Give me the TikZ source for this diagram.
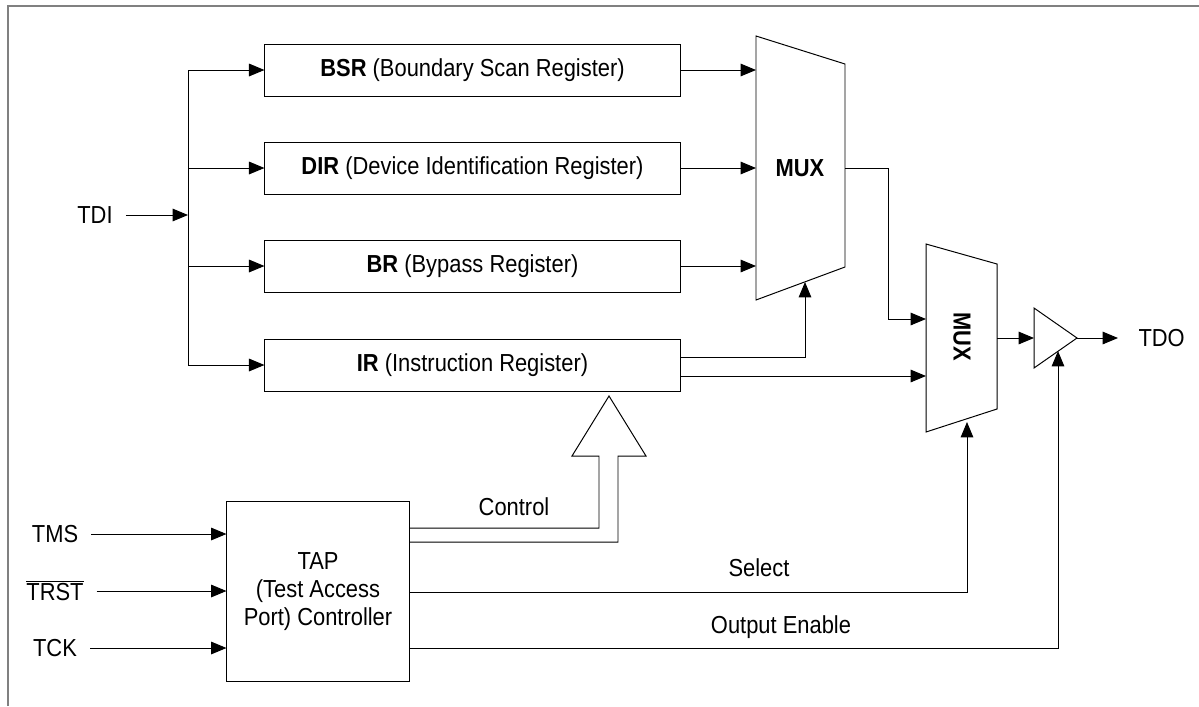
\documentclass[tikz,border=0pt]{standalone}
\usepackage{fontspec}
\setmainfont{Liberation Sans}[FakeStretch=0.89]
\usetikzlibrary{positioning,arrows.meta}

\tikzset{
  reg/.style={draw, minimum width=10.375cm, minimum height=1.3cm, inner sep=0pt},
  sig/.style={inner xsep=9pt},
  lbl/.style={inner sep=1pt},
}

\begin{document}
\begin{tikzpicture}[x=0.025cm, y=-0.025cm, line width=0.7pt,
    font=\fontsize{17.5}{20}\selectfont, every node/.style={align=center},
    >={Triangle[length=11pt,width=9pt]}]
  \useasboundingbox (0,0) rectangle (1199,706);
  \draw[gray, line width=1.5pt] (8,706) -- (8,6) -- (1199,6);

  % registers
  \node[reg] (bsr) at (472.5,70) {\textbf{BSR} (Boundary Scan Register)};
  \node[reg] (dir) at (472.5,168) {\textbf{DIR} (Device Identification Register)};
  \node[reg] (br) at (472.5,266) {\textbf{BR} (Bypass Register)};
  \node[reg] (ir) at (472.5,365) {\textbf{IR} (Instruction Register)};

  % TDI bus
  \node[sig] (tdi) at (95,215) {TDI};
  \coordinate (bus) at (188,215);
  \draw[->] (tdi) -- (bus);
  \draw[->] (bus) |- (bsr.west);
  \draw[->] (bus) |- (dir.west);
  \draw[->] (bus) |- (br.west);
  \draw[->] (bus) |- (ir.west);

  % first mux
  \coordinate (m1tl) at (756,36);
  \coordinate (m1tr) at (845,64);
  \coordinate (m1br) at (845,267);
  \coordinate (m1bl) at (756,300);
  \draw (m1tl) -- (m1tr) -- (m1br) -- (m1bl) -- cycle;
  \node[font=\fontsize{17.5}{20}\selectfont\bfseries] (mux1) at (800,168) {MUX};
  \draw[->] (bsr.east) -- (bsr.east -| m1tl);
  \draw[->] (dir.east) -- (dir.east -| m1tl);
  \draw[->] (br.east) -- (br.east -| m1tl);
  \coordinate (m1sel) at (805,282);
  \draw[->] (ir.east |- 0,357) -| (m1sel);

  % second mux
  \coordinate (m2tl) at (926,244);
  \coordinate (m2tr) at (997,264);
  \coordinate (m2br) at (997,409);
  \coordinate (m2bl) at (926,432);
  \draw (m2tl) -- (m2tr) -- (m2br) -- (m2bl) -- cycle;
  \node[font=\fontsize{17.5}{20}\selectfont\bfseries, rotate=-90] (mux2) at (962,337) {MUX};
  \draw[->] (m1tr |- 0,168) -- (888,168) |- (m2tl |- 0,319);
  \draw[->] (ir.east |- 0,376) -- (m2tl |- 0,376);
  \coordinate (m2sel) at (967,422);

  % output buffer
  \coordinate (bufin) at (1034,338);
  \coordinate (bufout) at (1077,338);
  \draw (1034,308) -- (bufout) -- (1034,368) -- cycle;
  \draw[->] (m2tr |- bufin) -- (bufin);
  \coordinate (bufen) at (1058,351);
  \node[sig, anchor=west, inner xsep=0pt] (tdo) at (1138,338) {TDO};
  \draw[->] (bufout) -- ([xshift=-0.5cm]tdo.west);

  % TAP controller
  \node[draw, minimum width=4.55cm, minimum height=4.475cm] (tap) at (318,591.5)
    {TAP\\(Test Access\\Port) Controller};
  \node[sig] (tms) at (55,534) {TMS};
  \node[sig] (trst) at (55,591) {$\overline{\hbox{TRST}}$};
  \node[sig] (tck) at (55,648) {TCK};
  \draw[->] (tms) -- (tms -| tap.west);
  \draw[->] (trst) -- (trst -| tap.west);
  \draw[->] (tck) -- (tck -| tap.west);

  % control to IR
  \draw (tap.east |- 0,528) -- (599,528) -- (599,456) -- (572,456)
    -- (609,396) -- (646,456) -- (618,456) -- (618,542) -- (tap.east |- 0,542);
  \node[lbl] (ctl) at (514,507) {Control};

  % select and output enable
  \draw[->] (tap.east |- 0,592) -| (m2sel);
  \node[lbl] (sel) at (759,568) {Select};
  \draw[->] (tap.east |- 0,648) -| (bufen);
  \node[lbl] (oe) at (781,627) {Output Enable};
\end{tikzpicture}
\end{document}
